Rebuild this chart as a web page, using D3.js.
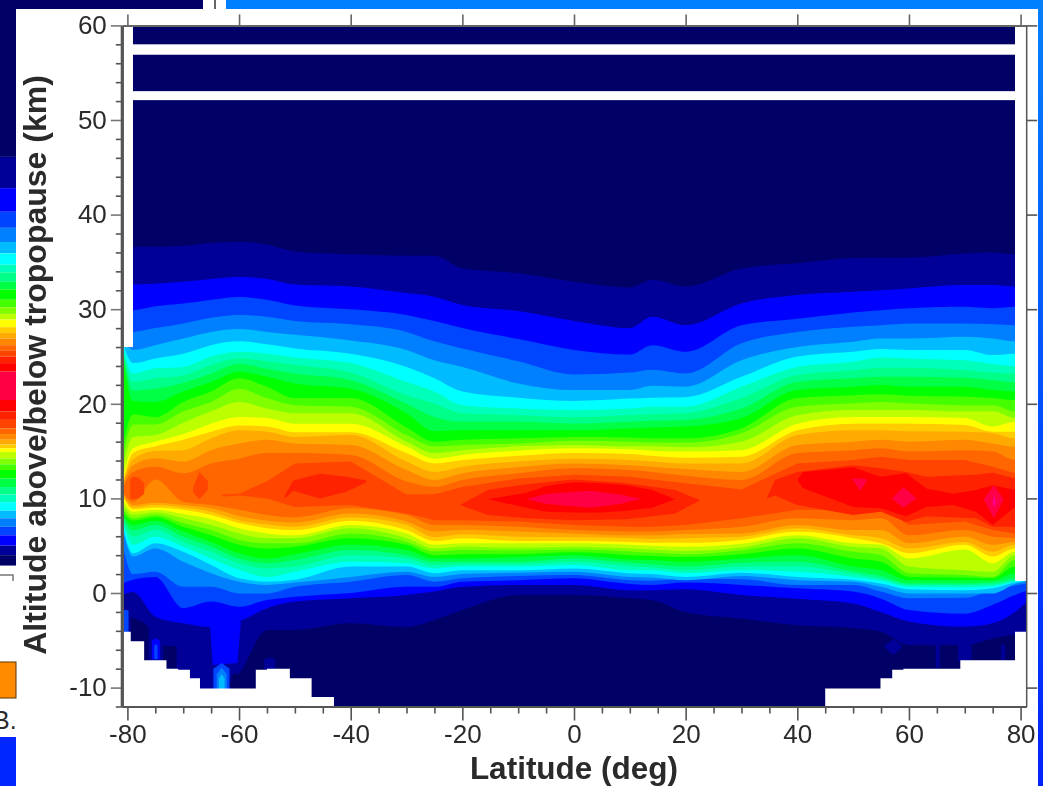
<!DOCTYPE html>
<html>
<head>
<meta charset="utf-8">
<script src="https://cdn.jsdelivr.net/npm/d3@7"></script>
<style>
    html, body { margin: 0; padding: 0; background: #fff; }
    svg { display: block; }
    text { font-family: "Liberation Sans", Arial, sans-serif; fill: #2b2b2b; }
</style>
</head>
<body>
<svg id="chart" width="1043" height="786"></svg>
<script>
// ---- Cores dos niveis (0 = fundo)
const levelColors = ['#000066', '#000099', '#0000ff', '#0044ff', '#0080ff', '#00bbff', '#00ffff', '#00ffbb',
    '#00ff88', '#00ff44', '#00ff00', '#44ff00', '#80ff00', '#bbff00', '#ffff00', '#ffcc00',
    '#ffaa00', '#ff8800', '#ff6600', '#ff4400', '#ff2200', '#ff0000', '#ff0044', '#ff0088'];

const xTicks = [-80, -60, -40, -20, 0, 20, 40, 60, 80];
const xMinorTicks = [-75, -70, -65, -55, -50, -45, -35, -30, -25, -15, -10, -5, 5, 10, 15, 25, 30, 35, 45, 50, 55, 65, 70, 75];
const yTicks = [-10, 0, 10, 20, 30, 40, 50, 60];
const yMinorTicks = [-12, -8, -6, -4, -2, 2, 4, 6, 8, 12, 14, 16, 18, 22, 24, 26, 28, 32, 34, 36, 38, 42, 44, 46, 48, 52, 54, 56, 58];

const lats = [-81, -79, -75, -70, -65, -60, -55, -50, -40, -30, -25, -20, -10, 0, 10, 14, 20, 30, 40, 50, 55, 60, 70, 75, 79, 81];

// altitude (km) do limite superior de cada nivel, 1 a 18
const upperEdges = [
    [36.6, 36.6, 36.6, 36.7, 37.0, 37.1, 36.85, 36.1, 35.8, 35.65, 35.65, 34.3, 33.8, 32.9, 32.3, 33.1, 32.4, 34.3, 34.85, 35.4, 35.45, 35.45, 35.9, 36.0, 35.8, 35.8],
    [32.6, 32.6, 32.7, 32.9, 33.2, 33.4, 33.2, 32.6, 32.4, 31.7, 31.3, 30.45, 29.8, 28.75, 28.0, 29.2, 28.3, 30.6, 31.5, 31.85, 32.0, 32.2, 32.55, 32.55, 32.4, 32.4],
    [29.9, 29.9, 30.3, 30.6, 31.0, 31.3, 31.0, 30.4, 30.0, 29.4, 28.75, 28.0, 26.85, 25.7, 25.2, 26.2, 25.5, 28.3, 29.0, 29.65, 29.9, 30.1, 30.25, 30.1, 30.25, 30.25],
    [28.0, 27.6, 28.0, 28.5, 29.1, 29.4, 29.2, 28.75, 28.4, 27.6, 26.6, 25.85, 24.5, 23.1, 23.3, 23.6, 23.2, 26.4, 27.6, 28.15, 28.3, 28.5, 28.5, 28.4, 28.3, 28.3],
    [27.0, 25.7, 26.2, 26.9, 27.6, 27.9, 27.6, 27.3, 26.7, 25.7, 24.6, 23.9, 22.15, 21.45, 21.45, 21.9, 21.8, 24.6, 26.0, 26.55, 26.9, 26.9, 27.1, 26.9, 26.6, 26.6],
    [26.8, 24.3, 24.8, 25.3, 26.2, 26.6, 26.3, 25.85, 25.3, 23.9, 22.7, 21.3, 20.65, 20.3, 20.55, 20.65, 20.7, 22.85, 25.0, 25.5, 25.8, 25.7, 25.7, 25.15, 25.3, 25.3],
    [26.6, 23.2, 23.75, 23.9, 25.0, 25.5, 25.3, 24.9, 24.3, 22.3, 21.3, 19.85, 19.5, 19.35, 19.5, 19.7, 19.7, 21.8, 23.9, 24.45, 24.9, 24.8, 24.6, 24.2, 24.0, 24.0],
    [26.4, 22.3, 22.7, 23.0, 24.1, 24.8, 24.5, 24.1, 23.3, 20.9, 20.0, 19.0, 18.8, 18.6, 18.8, 18.9, 19.0, 20.6, 23.05, 23.55, 23.8, 23.8, 23.55, 23.3, 23.2, 23.2],
    [26.2, 21.4, 21.6, 22.2, 23.2, 24.2, 23.7, 23.2, 22.5, 20.0, 18.6, 18.1, 18.1, 17.9, 18.1, 18.2, 18.3, 19.5, 22.3, 22.7, 22.85, 22.85, 22.75, 22.5, 22.3, 22.3],
    [25.9, 20.3, 20.2, 21.3, 22.3, 23.4, 22.85, 22.15, 21.6, 19.0, 17.1, 17.2, 17.2, 17.2, 17.4, 17.5, 17.6, 18.5, 21.45, 21.8, 22.0, 21.8, 21.8, 21.45, 21.3, 21.3],
    [14.8, 18.9, 18.6, 20.2, 21.3, 22.7, 21.8, 20.6, 20.6, 17.5, 16.0, 16.2, 16.35, 16.5, 16.45, 16.35, 16.35, 17.4, 20.6, 20.9, 21.0, 20.85, 20.75, 20.6, 20.4, 20.4],
    [13.6, 17.8, 17.8, 19.2, 20.2, 21.6, 20.6, 19.85, 19.7, 16.7, 15.5, 15.65, 15.8, 16.1, 16.0, 15.9, 15.9, 16.9, 19.7, 20.05, 20.2, 20.05, 19.85, 19.85, 19.2, 19.2],
    [12.6, 16.5, 16.7, 18.0, 19.2, 20.2, 19.5, 19.0, 19.0, 16.0, 14.8, 15.1, 15.5, 15.65, 15.5, 15.5, 15.4, 16.0, 18.8, 19.35, 19.35, 19.35, 19.2, 19.2, 18.5, 18.5],
    [11.6, 15.3, 16.0, 16.8, 17.9, 18.6, 18.5, 17.9, 17.9, 15.5, 14.2, 14.6, 15.05, 15.3, 15.2, 15.05, 14.95, 15.1, 17.9, 18.6, 18.6, 18.6, 18.5, 17.6, 18.1, 18.1],
    [11.2, 14.8, 15.5, 16.2, 17.05, 17.7, 17.6, 17.0, 17.0, 14.8, 13.7, 14.05, 14.5, 14.8, 14.7, 14.5, 14.3, 14.4, 17.2, 17.9, 17.9, 17.9, 17.75, 17.05, 17.05, 17.05],
    [11.1, 14.1, 15.0, 15.1, 16.35, 17.2, 17.05, 16.5, 16.7, 13.9, 12.8, 13.35, 13.9, 14.2, 14.05, 13.9, 13.7, 13.7, 16.7, 17.2, 17.2, 17.1, 17.05, 16.9, 16.35, 16.35],
    [11.0, 13.5, 14.25, 13.9, 15.1, 15.8, 16.2, 15.8, 15.65, 13.0, 11.95, 12.65, 13.3, 13.7, 13.5, 13.35, 13.1, 12.8, 15.65, 16.0, 16.2, 16.0, 16.2, 15.8, 15.45, 15.45],
    [10.9, 12.8, 13.35, 12.65, 13.7, 14.2, 14.8, 14.8, 14.6, 11.8, 11.2, 11.95, 12.65, 13.2, 13.0, 12.8, 12.4, 11.95, 14.8, 15.1, 15.3, 14.95, 15.1, 14.95, 14.05, 14.05]
];

// altitude (km) do limite inferior de cada nivel, 1 a 18
const lowerEdges = [
    [-4.2, -7, -8, -9, -10.5, -8.5, -3.9, -3.9, -3.2, -3.6, -2.85, -1.8, -0.2, -0.2, -0.55, -0.75, -2.0, -2.7, -3.4, -3.7, -4.1, -5.5, -5.5, -4.8, -4.4, -4.2],
    [-0.2, 0.1, -2.5, -3.2, -3.6, -3.0, -1.6, -0.9, -0.55, -0.2, 0.15, 0.65, 0.85, 0.85, 0.3, 0.3, 0.4, -0.2, -0.6, -1.1, -2.0, -3.0, -3.55, -3.2, -2.0, -1.0],
    [1.0, 1.4, 1.7, -1.6, -0.9, -1.45, -0.75, -0.4, 0, 0.65, 0.65, 1.2, 1.35, 1.55, 0.95, 0.85, 1.1, 0.85, 0.5, 0.15, -0.6, -1.8, -2.2, -1.25, -0.2, 0.2],
    [5.5, 2.0, 2.25, 0.65, 0.65, -0.05, -0.05, 0.65, 1.2, 1.9, 1.2, 1.55, 1.8, 1.9, 1.35, 1.3, 1.5, 1.45, 0.85, 0.85, 0.15, -0.55, -0.5, 0.3, 0.8, 1.0],
    [7.2, 3.85, 4.7, 3.3, 2.1, 1.2, 0.85, 1.1, 1.7, 2.25, 1.7, 2.0, 2.15, 2.25, 1.7, 1.65, 1.35, 1.8, 1.35, 1.2, 0.65, -0.05, -0.05, -0.05, 0.95, 1.27],
    [7.5, 4.2, 5.25, 4.35, 2.95, 1.55, 1.2, 1.4, 2.8, 2.8, 2.1, 2.4, 2.4, 2.6, 2.1, 2.0, 1.7, 2.15, 1.7, 1.4, 1.0, 0.4, 0.3, 0.5, 1.1, 1.3],
    [7.8, 5.1, 5.95, 4.9, 3.65, 2.45, 1.7, 2.25, 3.3, 3.15, 2.6, 2.8, 2.8, 2.95, 2.4, 2.4, 2.1, 2.4, 2.25, 1.7, 1.3, 0.65, 0.6, 0.75, 1.2, 1.4],
    [8.0, 5.95, 6.65, 5.4, 4.35, 3.15, 2.6, 2.8, 4.0, 3.65, 2.95, 3.05, 3.05, 3.3, 2.85, 2.7, 2.4, 2.8, 2.8, 2.0, 1.5, 0.85, 0.85, 0.9, 1.35, 1.5],
    [8.2, 6.65, 7.2, 5.95, 4.9, 3.65, 3.15, 3.5, 4.55, 4.0, 3.3, 3.3, 3.3, 3.65, 3.2, 3.05, 2.8, 3.2, 3.3, 2.3, 1.8, 1.0, 1.0, 1.1, 1.55, 1.6],
    [8.4, 7.2, 7.65, 6.5, 5.4, 4.2, 3.65, 4.1, 5.1, 4.55, 3.65, 3.65, 3.8, 4.0, 3.55, 3.5, 3.3, 3.65, 4.0, 2.8, 2.4, 1.35, 1.35, 1.35, 2.1, 1.7],
    [8.7, 7.65, 8.0, 7.0, 6.1, 5.1, 4.7, 4.9, 5.8, 5.1, 4.0, 4.1, 4.1, 4.3, 4.0, 3.9, 3.8, 4.1, 4.7, 3.65, 3.3, 1.7, 1.65, 1.55, 2.8, 2.0],
    [9.0, 7.9, 8.25, 7.4, 6.65, 5.6, 5.25, 5.25, 6.3, 5.4, 4.4, 4.55, 4.5, 4.6, 4.4, 4.25, 4.1, 4.5, 5.25, 4.35, 4.0, 2.1, 1.9, 1.7, 3.5, 2.5],
    [9.5, 8.25, 8.5, 7.9, 7.2, 6.3, 5.8, 5.8, 6.85, 5.8, 4.7, 4.9, 4.8, 4.9, 4.7, 4.6, 4.45, 4.8, 5.8, 4.9, 4.7, 2.8, 2.4, 2.25, 4.0, 3.0],
    [10.0, 8.6, 8.8, 8.35, 7.8, 6.85, 6.3, 6.1, 7.2, 6.3, 5.1, 5.25, 5.25, 5.25, 5.1, 5.0, 4.9, 5.2, 6.1, 5.25, 5.1, 3.65, 4.6, 3.15, 4.35, 3.5],
    [10.4, 8.85, 9.05, 8.8, 8.25, 7.4, 6.85, 6.65, 7.65, 6.65, 5.5, 5.8, 5.5, 5.5, 5.4, 5.3, 5.3, 5.6, 6.5, 5.8, 5.25, 4.2, 5.1, 3.85, 4.7, 4.0],
    [10.6, 9.05, 9.3, 9.05, 8.6, 7.7, 7.25, 7.0, 8.0, 7.2, 5.9, 6.2, 5.95, 5.9, 5.8, 5.7, 5.8, 5.95, 6.85, 6.1, 5.8, 4.7, 5.4, 4.35, 5.1, 4.5],
    [10.7, 9.3, 9.55, 9.3, 8.95, 8.15, 7.65, 7.45, 8.4, 7.55, 6.5, 6.65, 6.5, 6.3, 6.1, 6.1, 6.25, 6.3, 7.2, 6.65, 6.65, 5.25, 5.95, 5.1, 5.4, 5.0],
    [10.9, 9.65, 12.0, 9.65, 9.3, 8.8, 8.25, 8.0, 8.95, 8.25, 7.2, 7.2, 7.0, 6.65, 6.5, 6.5, 6.65, 7.0, 7.9, 7.7, 7.9, 6.1, 6.65, 5.95, 5.8, 5.5]
];

// ---- Ilhas de cada nivel: [nivel, lats, inferior, superior]
const coreMain = [19,
    [-63, -60, -55, -50, -40, -30, -25, -20, -10, 0, 10, 14, 20, 30, 40, 50, 55, 60, 70, 75, 79],
    [10.2, 10.3, 10.0, 9.1, 9.3, 8.4, 7.7, 7.7, 7.55, 7.2, 7.0, 7.0, 7.2, 7.9, 8.8, 8.8, 9.1, 7.2, 7.55, 6.65, 6.3],
    [10.4, 10.5, 11.8, 13.7, 13.9, 10.4, 10.45, 11.2, 12.1, 12.5, 12.3, 12.0, 11.6, 10.95, 13.7, 14.05, 14.4, 14.05, 14.05, 13.35, 12.65]];
const coreEdge = [19, [-79.5, -79, -78, -77], [10, 9.9, 10, 10.5], [12, 12.3, 12.2, 11.6]];
const coreSouth = [19, [-68.2, -67.1, -65.6], [10.6, 9.9, 10.9], [11.2, 12.8, 11.8]];
const red20South = [20, [-51.8, -50.3, -45.5, -40.8, -37.2], [10.0, 10.8, 10.0, 10.7, 11.7], [10.3, 11.9, 12.6, 12.3, 11.9]];
const red20Equator = [20, [-20.4, -15.4, -8.5, -0.1, 9.5, 18.1, 22.6], [9.3, 8.25, 7.9, 7.7, 7.8, 8.4, 9.8], [9.3, 10.9, 11.5, 12.0, 11.6, 10.9, 9.8]];
const red20North = [20, [34.5, 36, 40, 50, 55, 59.5, 63, 72, 75, 79], [10.0, 10.3, 9.3, 8.25, 8.6, 7.5, 8.1, 7.9, 7.0, 7.0], [10.0, 11.95, 12.8, 13.5, 13.2, 12.8, 12.3, 12.5, 12.7, 12.1]];
const red21Equator = [21, [-15.4, -8.5, -5, 0, 5, 9.5, 14, 18.1], [9.9, 9.0, 8.6, 8.5, 8.5, 8.7, 9.0, 9.9], [9.9, 10.6, 11.3, 11.7, 11.6, 11.4, 10.9, 9.9]];
const red21North = [21, [40, 41, 46, 50, 54.9, 59.5, 63.1, 67.9, 72, 75, 79], [11.95, 11.1, 10.0, 9.1, 8.95, 8.1, 9.1, 9.3, 8.6, 7.2, 9.1], [11.95, 12.8, 13.05, 13.3, 12.3, 12.65, 11.05, 10.5, 10.9, 11.4, 10.9]];
const pinkEquator = [22, [-8.5, -4.9, 2.9, 8.2, 11.8], [9.9, 9.4, 9.0, 9.4, 9.9], [9.9, 10.5, 10.8, 10.4, 10.0]];
const pinkA = [22, [49.8, 51.3, 52.5], [12.0, 10.8, 11.9], [12.1, 12.1, 12.0]];
const pinkB = [22, [56.9, 59, 61.4], [10.0, 9.0, 10.0], [10.0, 11.2, 10.0]];
const pinkC = [22, [73.4, 75.2, 77], [9.9, 7.9, 9.9], [9.9, 11.4, 9.9]];
const pinkCore = [23, [75, 75.2, 75.6], [9.5, 9.0, 9.5], [9.7, 10.4, 9.7]];

// manchas junto ao chao
const floorNavyA = [0, [-79.4, -77.2, -76.2], [-7.2, -7.2, -7.2], [-2.5, -3.1, -3.6]];
const floorNavyB = [0, [-73.6, -71.2], [-8, -8], [-5.6, -5.6]];
const floorNavyC = [0, [-61.4, -60.6, -59.8], [-10.2, -10.2, -10.2], [-8.8, -8.4, -9]];
const floorEdge = [3, [-81, -79.8], [-4.2, -4.2], [-1.8, -1.8]];
const floorSpike2 = [2, [-75.6, -75, -74.2], [-7, -7, -7], [-5, -4.8, -5]];
const floorSpike3 = [3, [-75.2, -74.9, -74.6], [-7, -7, -7], [-5.6, -5.4, -5.6]];
const floorPlume = [2, [-65.2, -64.7, -60.3, -59.7], [-3.5, -7.6, -7.4, -3.2], [-3, -3, -3, -3]];
const floorJet3 = [3, [-64.6, -63.1, -61.7], [-10.2, -10.2, -10.2], [-8.0, -7.4, -8.0]];
const floorJet4 = [4, [-64, -63.1, -62.2], [-10.2, -10.2, -10.2], [-8.6, -7.9, -8.6]];
const floorJet5 = [5, [-63.6, -63.1, -62.6], [-10.2, -10.2, -10.2], [-9, -8.6, -9]];
const floorSouth = [1, [-55.5, -54.5, -53.5], [-8.1, -8.1, -8.1], [-7, -6.8, -7]];
const floorSpotA = [1, [55.7, 57.2, 58.7], [-5.8, -6.55, -5.8], [-5.5, -4.9, -5.5]];
const floorSpotB = [1, [64.8, 65.5], [-7.9, -7.9], [-5.5, -5.5]];
const floorSpotC = [1, [68.8, 71.2], [-7.2, -7.2], [-5.3, -5.3]];
const floorSpotD = [1, [76.5, 77.2], [-7.2, -7.2], [-5.5, -5.5]];

const patches = [floorNavyA, floorNavyB, floorNavyC, floorEdge, floorSpike2, floorSpike3, floorPlume, floorJet3, floorJet4, floorJet5,
    floorSouth, floorSpotA, floorSpotB, floorSpotC, floorSpotD,
    coreMain, coreEdge, coreSouth, red20South, red20Equator, red20North, red21Equator, red21North,
    pinkEquator, pinkA, pinkB, pinkC, pinkCore];

// ---- Chao sem dados (degraus) e faixas sem dados
const floorLats = [-81, -79.4, -77, -73, -70.9, -68.8, -67, -57, -55, -50.9, -47, -43, 45, 54.9, 57, 59, 69.2, 79, 81];
const floorAlts = [-4.1, -5.1, -7.1, -8.0, -8.1, -9.0, -10.1, -8.1, -8.0, -9.0, -11.0, -12.0, -10.1, -9.0, -8.1, -8.0, -7.1, -4.1, -4.1];
const gapBands = [[52.1, 53.05], [56.9, 58.0]];
const sideGaps = [[-81, -79, 26, 60], [79, 81, 1.27, 60]];

// ---- Restos do slide por tras: [nivel, altitude onde termina]
const stripLevels = [0, 1, 2, 3, 4, 5, 6, 7, 8, 9, 10, 11, 12, 13, 14, 15, 16, 17, 18, 19, 20, 21, 22, 21, 20, 19, 18, 17, 16, 15, 14, 13, 12, 11, 10, 9, 8, 7, 6, 5, 4, 3, 2, 1, 0];
const stripEnds = [46.1, 42.8, 40.3, 38.6, 37.1, 35.9, 34.7, 33.9, 32.9, 32.1, 31, 30.2, 29.5, 28.9, 28.1, 27.5, 26.9, 26.2, 25.6, 25, 24.3, 23.4, 20.4, 19.2, 18.3, 17.4, 16.8, 16.2, 15.7, 15.3, 14.9, 14.2, 13.6, 13, 12.1, 11.2, 10.4, 9.6, 8.7, 7.9, 7, 6.1, 5, 4, 2.9];

const svg = d3.select('#chart');

const x = d3.scaleLinear().domain([-80, 80]).range([127.4, 1020.6]);
const y = d3.scaleLinear().domain([0, 60]).range([593, 25.4]);

const defs = svg.append('defs');
defs.append('clipPath').attr('id', 'plotClip')
    .append('rect')
    .attr('x', x(-81)).attr('y', y(60))
    .attr('width', x(81) - x(-81)).attr('height', y(-12) - y(60));
defs.append('filter').attr('id', 'soft')
    .append('feGaussianBlur').attr('stdDeviation', 0.45);
defs.append('filter').attr('id', 'softer')
    .append('feGaussianBlur').attr('stdDeviation', 0.6);
const rightGrad = defs.append('linearGradient').attr('id', 'rightGrad')
    .attr('x1', 0).attr('x2', 0).attr('y1', 0).attr('y2', 1);
rightGrad.append('stop').attr('offset', '0%').attr('stop-color', '#0080ff');
rightGrad.append('stop').attr('offset', '100%').attr('stop-color', '#0022ff');

// ---- Fundo do slide
const backdrop = svg.append('g');
backdrop.append('rect').attr('width', 1043).attr('height', 786).attr('fill', '#fff');
backdrop.append('rect').attr('x', 226).attr('width', 817).attr('height', 9).attr('fill', '#0080ff');
backdrop.append('rect').attr('x', 1038).attr('width', 5).attr('height', 786).attr('fill', 'url(#rightGrad)');
backdrop.append('rect').attr('width', 203).attr('height', 9).attr('fill', levelColors[0]);
backdrop.append('line').attr('x1', 215).attr('x2', 215).attr('y1', 0).attr('y2', 9).attr('stroke', '#333').attr('stroke-width', 1.5);

backdrop.append('g').selectAll('rect')
    .data(stripLevels)
    .join('rect')
    .attr('x', 0)
    .attr('width', 16)
    .attr('y', (d, i) => i === 0 ? 0 : y(stripEnds[i - 1]))
    .attr('height', (d, i) => y(stripEnds[i]) - (i === 0 ? 0 : y(stripEnds[i - 1])))
    .attr('fill', d => levelColors[d]);

backdrop.append('path').attr('d', 'M0,575H13V581').attr('fill', 'none').attr('stroke', '#777').attr('stroke-width', 1.5);
backdrop.append('rect').attr('x', -2).attr('y', 662).attr('width', 18).attr('height', 36)
    .attr('fill', '#ff8c00').attr('stroke', '#5a3000').attr('stroke-width', 1);
backdrop.append('text').attr('x', -7).attr('y', 729).attr('font-size', 25).text('B.');
backdrop.append('rect').attr('y', 737).attr('width', 16).attr('height', 49).attr('fill', '#0026ff');

// ---- Contornos
const plot = svg.append('g').attr('clip-path', 'url(#plotClip)');
const plotInner = plot.append('g').attr('filter', 'url(#soft)');

plotInner.append('rect')
    .attr('x', x(-81)).attr('y', y(60))
    .attr('width', x(81) - x(-81)).attr('height', y(-12) - y(60))
    .attr('fill', levelColors[0]);

const bandArea = d3.area()
    .x(d => x(d.lat))
    .y0(d => y(d.lo))
    .y1(d => y(d.hi))
    .curve(d3.curveMonotoneX);

upperEdges.forEach((upper, k) => {
    const rows = lats.map((lat, i) => ({ lat: lat, lo: lowerEdges[k][i], hi: upper[i] }));
    plotInner.append('path')
        .attr('d', bandArea(rows))
        .attr('fill', levelColors[k + 1]);
});

const patchArea = d3.area()
    .x(d => x(d.lat))
    .y0(d => y(d.lo))
    .y1(d => y(d.hi));

patches.forEach(p => {
    const rows = p[1].map((lat, i) => ({ lat: lat, lo: p[2][i], hi: p[3][i] }));
    plotInner.append('path')
        .attr('d', patchArea(rows))
        .attr('fill', levelColors[p[0]]);
});

// ---- Mascaras brancas
const floorRows = floorLats.map((lat, i) => ({ lat: lat, alt: floorAlts[i] }));
plotInner.append('path')
    .attr('d', d3.area()
        .x(d => x(d.lat))
        .y0(y(-12))
        .y1(d => y(d.alt))
        .curve(d3.curveStepAfter)(floorRows))
    .attr('fill', '#fff');

plotInner.selectAll('.gap')
    .data(gapBands)
    .join('rect')
    .attr('class', 'gap')
    .attr('x', x(-81))
    .attr('width', x(81) - x(-81))
    .attr('y', d => y(d[1]))
    .attr('height', d => y(d[0]) - y(d[1]))
    .attr('fill', '#fff');

plotInner.selectAll('.side')
    .data(sideGaps)
    .join('rect')
    .attr('class', 'side')
    .attr('x', d => x(d[0]))
    .attr('width', d => x(d[1]) - x(d[0]))
    .attr('y', d => y(d[3]))
    .attr('height', d => y(d[2]) - y(d[3]))
    .attr('fill', '#fff');

// ---- Eixos
const axes = svg.append('g').attr('filter', 'url(#softer)');
const yFull = d3.scaleLinear().domain([-12, 60]).range([y(-12), y(60)]);
const xFull = d3.scaleLinear().domain([-81, 81]).range([x(-81), x(81)]);

function styleAxis(g, color, width) {
    g.select('.domain').attr('stroke', color).attr('stroke-width', width);
    g.selectAll('.tick line').attr('stroke', color).attr('stroke-width', 1.6);
    g.selectAll('.tick text').attr('font-size', 26).attr('fill', '#2b2b2b').attr('font-family', '"Liberation Sans", Arial, sans-serif');
}

axes.append('g')
    .attr('transform', `translate(${x(-81)},0)`)
    .call(d3.axisLeft(yFull).tickValues(yTicks).tickSize(11).tickSizeOuter(0).tickPadding(4).tickFormat(d => String(d)))
    .call(g => styleAxis(g, '#777', 3));
axes.append('g')
    .attr('transform', `translate(${x(-81)},0)`)
    .call(d3.axisLeft(yFull).tickValues(yMinorTicks).tickSize(6).tickSizeOuter(0).tickFormat(''))
    .call(g => styleAxis(g, '#555', 3));

axes.append('g')
    .attr('transform', `translate(0,${y(-12)})`)
    .call(d3.axisBottom(xFull).tickValues(xTicks).tickSize(14).tickSizeOuter(0).tickPadding(4).tickFormat(d => String(d)))
    .call(g => styleAxis(g, '#555', 2));
axes.append('g')
    .attr('transform', `translate(0,${y(-12)})`)
    .call(d3.axisBottom(xFull).tickValues(xMinorTicks).tickSize(7).tickSizeOuter(0).tickFormat(''))
    .call(g => styleAxis(g, '#555', 2));

axes.append('g')
    .attr('transform', `translate(0,${y(60)})`)
    .call(d3.axisTop(xFull).tickValues(xTicks).tickSize(11).tickSizeOuter(0).tickFormat(''))
    .call(g => styleAxis(g, '#666', 2));

axes.append('g')
    .attr('transform', `translate(${x(81)},0)`)
    .call(d3.axisRight(yFull).tickValues(yTicks).tickSize(11).tickSizeOuter(0).tickFormat(''))
    .call(g => styleAxis(g, '#555', 1.5));

// ---- Titulos
axes.append('text')
    .attr('x', 574)
    .attr('y', 779)
    .attr('text-anchor', 'middle')
    .attr('font-size', 31.5)
    .attr('font-weight', 'bold')
    .text('Latitude (deg)');

axes.append('text')
    .attr('transform', 'translate(46,365) rotate(-90)')
    .attr('text-anchor', 'middle')
    .attr('font-size', 32)
    .attr('font-weight', 'bold')
    .text('Altitude above/below tropopause (km)');
</script>
</body>
</html>
